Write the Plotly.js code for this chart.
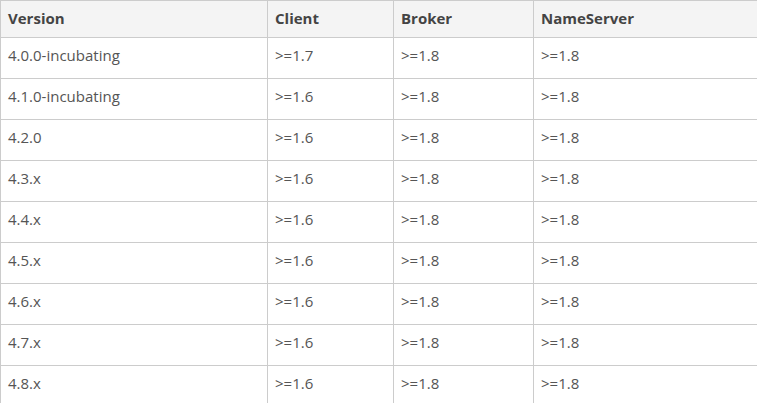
<!DOCTYPE html>
<html lang="en">
  <head>
    <meta charset="UTF-8" />
    <title>RocketMQ JDK Versions</title>
    <script src="https://cdn.plot.ly/plotly-3.0.1.min.js"></script>
    <style>
      body { margin: 0; padding: 0; background: #fff; }
      #plot { width: 757px; height: 403px; }
    </style>
  </head>
  <body>
    <div id="plot"></div>
    <script>
      const headers = ["Version", "Client", "Broker", "NameServer"];
      const versions = [
        "4.0.0-incubating", "4.1.0-incubating", "4.2.0", "4.3.x",
        "4.4.x", "4.5.x", "4.6.x", "4.7.x", "4.8.x"
      ];
      const client = [">=1.7", ">=1.6", ">=1.6", ">=1.6", ">=1.6", ">=1.6", ">=1.6", ">=1.6", ">=1.6"];
      const broker = [">=1.8", ">=1.8", ">=1.8", ">=1.8", ">=1.8", ">=1.8", ">=1.8", ">=1.8", ">=1.8"];
      const nameserver = [">=1.8", ">=1.8", ">=1.8", ">=1.8", ">=1.8", ">=1.8", ">=1.8", ">=1.8", ">=1.8"];

      // wrap in a span so the first column takes the same text path as the others
      const versionCells = versions.map((v) => "<span>" + v + "</span>");

      Plotly.newPlot(
        "plot",
        [
          {
            type: "table",
            columnwidth: [267, 126, 140, 224],
            header: {
              values: headers.map((h) => "<b>" + h + "</b>"),
              align: "left",
              height: 37,
              fill: { color: "#f4f4f4" },
              line: { color: "#cccccc", width: 1 },
              font: { family: "Open Sans, sans-serif", size: 15, color: "#444444" },
            },
            cells: {
              values: [versionCells, client, broker, nameserver],
              align: "left",
              height: 41,
              fill: { color: "#ffffff" },
              line: { color: "#cccccc", width: 1 },
              font: { family: "Open Sans, sans-serif", size: 15, color: "#555555" },
            },
          },
        ],
        {
          width: 757,
          height: 403,
          margin: { l: 0, r: 0, t: 0, b: 0 },
          paper_bgcolor: "#ffffff",
        },
        { displayModeBar: false }
      );
    </script>
  </body>
</html>
